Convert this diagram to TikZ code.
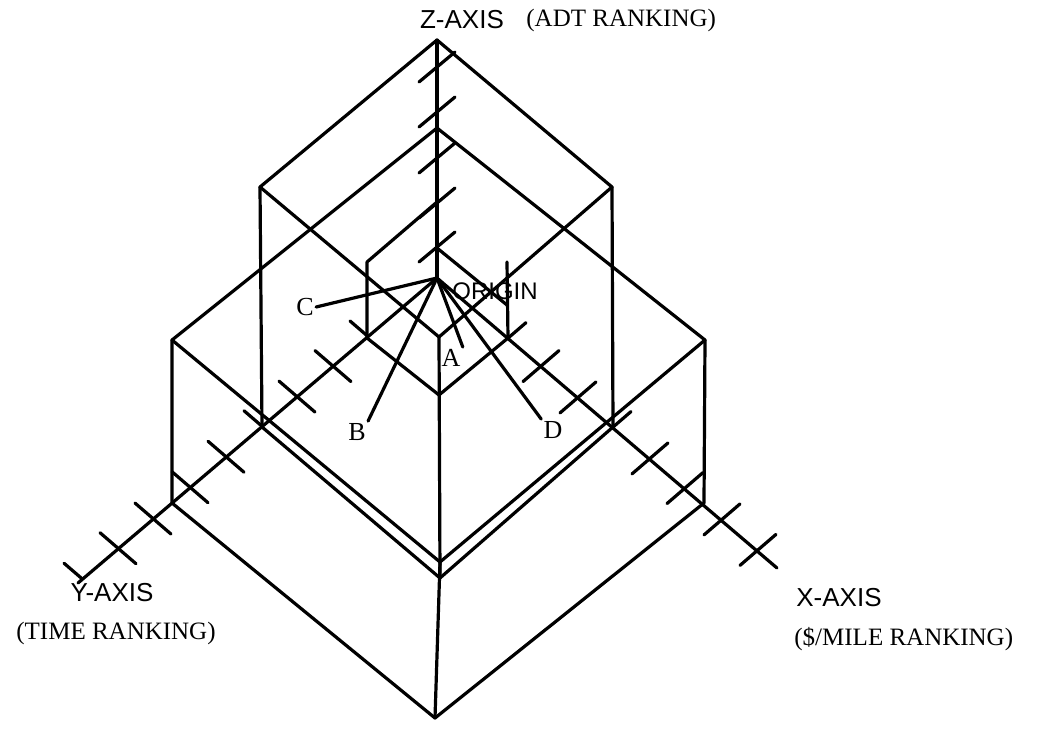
\documentclass[tikz,border=0pt]{standalone}
\usepackage{fontspec}
\setmainfont{Liberation Serif}
\newfontfamily\axisfont{Liberation Sans}
\usetikzlibrary{positioning}

\begin{document}
\begin{tikzpicture}[x=0.5pt,y=-0.5pt,
  edge/.style={line width=1.6pt, line cap=round, line join=round},
  tick/.style={line width=1.6pt, line cap=round},
  axislabel/.style={font=\axisfont\fontsize{13}{15}\selectfont, inner sep=0pt},
  ranklabel/.style={font=\fontsize{12.5}{15}\selectfont, inner sep=0pt},
  ptlabel/.style={font=\fontsize{13}{15}\selectfont, inner sep=1pt},
]
  \useasboundingbox (0,0) rectangle (1040,730);

  % axes
  \coordinate (origin) at (437,278);
  \coordinate (zend) at (437,40);
  \coordinate (xend) at (777,568);
  \coordinate (yend) at (78,583);
  \draw[edge] (origin) -- (zend);
  \draw[edge] (origin) -- (xend);
  \draw[edge] (origin) -- (yend);

  % ticks
  \foreach \d in {104,141,213,248,285,321}
    \draw[tick] ({437+\d-18},{278+0.847*\d+15.5}) -- ({437+\d+18},{278+0.847*\d-15.5});
  \foreach \d in {71,176}
    \draw[tick] ({437+\d},{278+0.847*\d}) -- ({437+\d+18},{278+0.847*\d-15.5});
  \foreach \d in {104,140,211,247,284,319}
    \draw[tick] ({437-\d-18},{278+0.847*\d-15.5}) -- ({437-\d+18},{278+0.847*\d+15.5});
  \foreach \d in {69,175,355}
    \draw[tick] ({437-\d},{278+0.847*\d}) -- ({437-\d-18},{278+0.847*\d-15.5});
  \foreach \z in {247,203,158,112,67}
    \draw[tick] (419,\z+15) -- (455,\z-15);

  % outer cube
  \coordinate (t3) at (437,40);
  \coordinate (l3) at (260,187);
  \coordinate (r3) at (612,187);
  \coordinate (f3) at (439,337);
  \coordinate (ly3) at (262,427);
  \coordinate (rx3) at (613,427);
  \coordinate (b3) at (440,578);
  \draw[edge] (l3) -- (t3) -- (r3) -- (f3) -- cycle;
  \draw[edge] (l3) -- (ly3) -- (b3) -- (rx3) -- (r3);
  \draw[edge] (f3) -- (b3);

  % middle box
  \coordinate (t2) at (437,128);
  \coordinate (l2) at (172,340);
  \coordinate (r2) at (705,340);
  \coordinate (f2) at (440,562);
  \coordinate (ly2) at (172,503);
  \coordinate (rx2) at (704,503);
  \coordinate (b2) at (435,718);
  \draw[edge] (l2) -- (t2) -- (r2) -- (f2) -- cycle;
  \draw[edge] (l2) -- (ly2) -- (b2) -- (rx2) -- (r2);
  \draw[edge] (f2) -- (b2);

  % inner cube
  \coordinate (t1) at (437,202);
  \coordinate (l1) at (367,262);
  \coordinate (r1) at (507,262);
  \coordinate (k1) at (437,248);
  \coordinate (m1) at (507,305);
  \coordinate (ly1) at (367,338);
  \coordinate (rx1) at (508,338);
  \coordinate (b1) at (439,395);
  \draw[edge] (ly1) -- (l1) -- (t1);
  \draw[edge] (k1) -- (m1);
  \draw[edge] (r1) -- (rx1);
  \draw[edge] (ly1) -- (b1) -- (rx1);

  % labels
  \node[axislabel] (zlab) at (462,20) {Z-AXIS};
  \node[ranklabel, anchor=west] (zrank) at (526,20) {(ADT RANKING)};
  \node[axislabel] (ylab) at (112,593) {Y-AXIS};
  \node[ranklabel] (yrank) at (116,633) {(TIME RANKING)};
  \node[axislabel, anchor=west] (xlab) at (796,598) {X-AXIS};
  \node[ranklabel, anchor=west] (xrank) at (794,639) {(\$/MILE RANKING)};
  \node[axislabel, font=\axisfont\fontsize{12}{14}\selectfont, anchor=west] (orig) at (452,291) {ORIGIN};

  % ranked points
  \node[ptlabel] (ptc) at (305,307) {C};
  \node[ptlabel] (ptb) at (357,432) {B};
  \node[ptlabel] (pta) at (451,358) {A};
  \node[ptlabel] (ptd) at (553,430) {D};
  \draw[edge] (origin) -- (ptc.east);
  \draw[edge] (origin) -- (ptb.north east);
  \draw[edge] (origin) -- (pta.north east);
  \draw[edge] (origin) -- (ptd.north west);
\end{tikzpicture}
\end{document}
